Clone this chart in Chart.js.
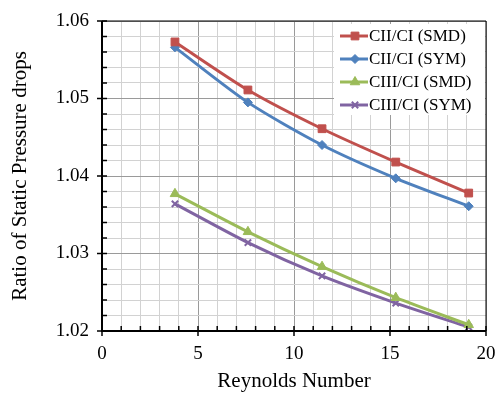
<!DOCTYPE html>
<html>
<head>
<meta charset="utf-8">
<script src="https://cdn.jsdelivr.net/npm/chart.js@4.4.1/dist/chart.umd.min.js"></script>
<style>
html,body{margin:0;padding:0;background:#fff;}
#wrap{width:499px;height:394px;position:relative;}
</style>
</head>
<body>
<div id="wrap"><canvas id="c" width="499" height="394"></canvas></div>
<script>
const reynolds = [3.8, 7.6, 11.46, 15.3, 19.1];
const seriesNames = ['CII/CI (SMD)', 'CII/CI (SYM)', 'CIII/CI (SMD)', 'CIII/CI (SYM)'];
const ciiSmd  = [1.0573, 1.0511, 1.0461, 1.0418, 1.0378];
const ciiSym  = [1.0566, 1.0495, 1.0440, 1.0397, 1.0361];
const ciiiSmd = [1.0377, 1.0328, 1.0283, 1.0243, 1.0208];
const ciiiSym = [1.0364, 1.0314, 1.0271, 1.0236, 1.0205];
const xTickLabels = [0, 5, 10, 15, 20];
const yTickLabels = ['1.02', '1.03', '1.04', '1.05', '1.06'];

const colors = ['#C0504D', '#4F81BD', '#9BBB59', '#8064A2'];
const shapes = ['rect', 'rectRot', 'triangle', 'crossRot'];
const radii = [5.5, 4.5, 5.5, 4.5];
const values = [ciiSmd, ciiSym, ciiiSmd, ciiiSym];

const serif = "'Liberation Serif', 'Times New Roman', serif";

const datasets = values.map((v, i) => ({
  label: seriesNames[i],
  data: v.map((y, j) => ({x: reynolds[j], y})),
  borderColor: colors[i],
  backgroundColor: colors[i],
  borderWidth: 3,
  pointStyle: shapes[i],
  pointRadius: radii[i],
  pointBorderWidth: i === 3 ? 2 : 1,
  pointBackgroundColor: colors[i],
  pointBorderColor: colors[i],
  tension: 0.25,
  fill: false
}));

function isMajorX(v){ return Math.abs(v/5 - Math.round(v/5)) < 1e-6; }
function isMajorY(v){ return Math.abs((v-1.02)/0.01 - Math.round((v-1.02)/0.01)) < 1e-6; }

const frame = {
  id: 'frame',
  afterDraw(chart){
    const {ctx, chartArea: a, scales} = chart;
    ctx.save();
    ctx.strokeStyle = '#000';
    ctx.lineWidth = 1.5;
    scales.x.ticks.forEach(t => {
      const px = scales.x.getPixelForValue(t.value);
      ctx.beginPath();
      if (isMajorX(t.value)) { ctx.moveTo(px, a.bottom + 5); ctx.lineTo(px, a.bottom - 5); }
      else { ctx.moveTo(px, a.bottom); ctx.lineTo(px, a.bottom - 5); }
      ctx.stroke();
    });
    scales.y.ticks.forEach(t => {
      const py = scales.y.getPixelForValue(t.value);
      ctx.beginPath();
      if (isMajorY(t.value)) { ctx.moveTo(a.left - 5, py); ctx.lineTo(a.left + 5, py); }
      else { ctx.moveTo(a.left, py); ctx.lineTo(a.left + 5, py); }
      ctx.stroke();
    });
    ctx.lineWidth = 2;
    ctx.beginPath();
    ctx.moveTo(a.left, a.top); ctx.lineTo(a.left, a.bottom); ctx.lineTo(a.right, a.bottom);
    ctx.stroke();
    ctx.lineWidth = 1;
    ctx.beginPath();
    ctx.moveTo(a.left, a.top); ctx.lineTo(a.right, a.top); ctx.lineTo(a.right, a.bottom);
    ctx.stroke();
    ctx.restore();
  }
};

const legendBox = {
  id: 'legendBox',
  afterDatasetsDraw(chart){
    const {ctx, chartArea: a} = chart;
    ctx.save();
    const x0 = 334, y0 = 24, w = a.right - 1 - x0, h = 91;
    ctx.fillStyle = '#fff';
    ctx.fillRect(x0, y0, w, h);
    ctx.font = '17px ' + serif;
    ctx.textBaseline = 'middle';
    chart.data.datasets.forEach((ds, i) => {
      const cy = 36 + i * 23;
      ctx.strokeStyle = ds.borderColor;
      ctx.lineWidth = 3;
      ctx.beginPath(); ctx.moveTo(340, cy); ctx.lineTo(368, cy); ctx.stroke();
      ctx.fillStyle = ds.borderColor;
      ctx.strokeStyle = ds.borderColor;
      ctx.lineWidth = ds.pointBorderWidth;
      Chart.helpers.drawPoint(ctx, {pointStyle: ds.pointStyle, rotation: 0, borderWidth: ds.pointBorderWidth, radius: ds.pointRadius}, 355, cy);
      ctx.fillStyle = '#000';
      ctx.fillText(ds.label, 369, cy + 1);
    });
    ctx.restore();
  }
};

new Chart(document.getElementById('c'), {
  type: 'line',
  data: { datasets },
  options: {
    responsive: false,
    animation: false,
    layout: { padding: { left: 0, right: 13, top: 21, bottom: 0 } },
    plugins: { legend: { display: false }, tooltip: { enabled: false } },
    scales: {
      x: {
        type: 'linear', min: 0, max: 20,
        afterFit(s){ s.height = 63; s.paddingLeft = 0; s.paddingRight = 0; },
        ticks: {
          stepSize: 1, autoSkip: false, maxRotation: 0, padding: 12,
          color: '#000', font: { family: serif, size: 19 },
          callback: v => xTickLabels.includes(v) ? String(v) : ''
        },
        grid: {
          drawTicks: false,
          color: c => isMajorX(c.tick.value) ? '#9a9a9a' : '#d2d2d2',
          lineWidth: 1
        },
        border: { display: false },
        title: { display: true, text: 'Reynolds Number', color: '#000', font: { family: serif, size: 21 }, padding: { top: 0, bottom: 0 } }
      },
      y: {
        type: 'linear', min: 1.02, max: 1.06,
        afterFit(s){ s.width = 102; s.paddingTop = 0; s.paddingBottom = 0; },
        ticks: {
          stepSize: 0.002, autoSkip: false, padding: 13,
          color: '#000', font: { family: serif, size: 19 },
          callback: v => { const s = v.toFixed(2); return isMajorY(v) && yTickLabels.includes(s) ? s : ''; }
        },
        grid: {
          drawTicks: false,
          color: c => isMajorY(c.tick.value) ? '#9a9a9a' : '#d2d2d2',
          lineWidth: 1
        },
        border: { display: false },
        title: { display: true, text: 'Ratio of Static Pressure drops', color: '#000', font: { family: serif, size: 21 }, padding: { top: 8, bottom: 0 } }
      }
    }
  },
  plugins: [frame, legendBox]
});
</script>
</body>
</html>
